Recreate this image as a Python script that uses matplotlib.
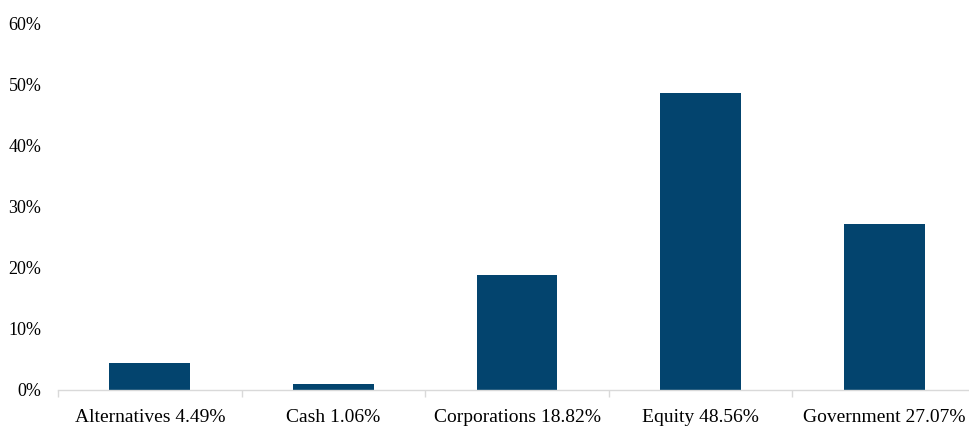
import matplotlib
matplotlib.use('Agg')
import matplotlib.pyplot as plt
from matplotlib.ticker import PercentFormatter

# Asset allocation data
categories = ['Alternatives', 'Cash', 'Corporations', 'Equity', 'Government']
weights = [4.49, 1.06, 18.82, 48.56, 27.07]

BAR_COLOR = '#03446E'
AXIS_GRAY = '#D9D9D9'

plt.rcParams['font.family'] = ['Liberation Serif', 'DejaVu Serif']

fig = plt.figure(figsize=(9.7, 4.3), dpi=100)
ax = fig.add_axes([58 / 970, 40 / 430, 918 / 970, 367 / 430])

labels = [f'{c} {w:.2f}%' for c, w in zip(categories, weights)]
x = range(len(categories))
ax.bar(x, weights, width=0.44, color=BAR_COLOR)

ax.set_xlim(-0.5, len(categories) - 0.5)
ax.set_ylim(0, 60)
ax.set_yticks(range(0, 61, 10))
ax.yaxis.set_major_formatter(PercentFormatter(decimals=0))

# category dividers as major ticks, labels on minor ticks
ax.set_xticks([i - 0.5 for i in range(len(categories) + 1)], minor=False)
ax.set_xticklabels([''] * (len(categories) + 1))
ax.set_xticks(list(x), minor=True)
ax.set_xticklabels(labels, minor=True)
ax.tick_params(axis='x', which='major', length=5, color=AXIS_GRAY, width=1)
ax.tick_params(axis='x', which='minor', length=0, pad=14, labelsize=14)
ax.tick_params(axis='y', length=0, pad=12, labelsize=13)

for side in ['top', 'right', 'left']:
    ax.spines[side].set_visible(False)
ax.spines['bottom'].set_color(AXIS_GRAY)
ax.spines['bottom'].set_linewidth(1)

fig.savefig('out.png', dpi=100, facecolor='white')
